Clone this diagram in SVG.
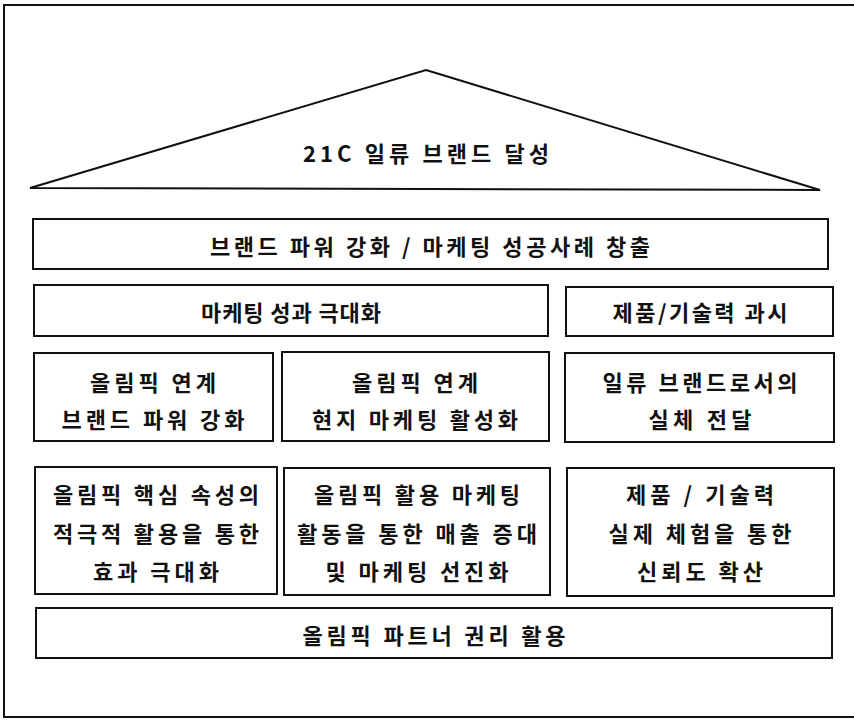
<svg xmlns="http://www.w3.org/2000/svg" width="854" height="723" viewBox="0 0 854 723">
<style>
.box{fill:#fff;stroke:#111;stroke-width:2}
.frame{fill:none;stroke:#111;stroke-width:2}
text{font-family:"Noto Sans CJK KR","Liberation Sans",sans-serif;font-size:22px;font-weight:bold;fill:#111;text-anchor:middle;dominant-baseline:central}
</style>
<rect width="854" height="723" fill="#fff"/>
<path class="frame" d="M854,5 H4 V717 H854"/>
<g id="roof">
<polygon class="box" points="426,70 820,190 30,188"/>
<text x="426" y="152" textLength="246" lengthAdjust="spacing">21C 일류 브랜드 달성</text>
</g>
<g id="goal">
<rect class="box" x="33" y="219" width="795" height="50"/>
<text x="430" y="245" textLength="440" lengthAdjust="spacing">브랜드 파워 강화 / 마케팅 성공사례 창출</text>
</g>
<g id="marketing">
<rect class="box" x="34" y="285" width="514" height="51"/>
<text x="291" y="311" textLength="180" lengthAdjust="spacing">마케팅 성과 극대화</text>
</g>
<g id="product">
<rect class="box" x="566" y="287" width="267" height="49"/>
<text x="700" y="311" textLength="175" lengthAdjust="spacing">제품/기술력 과시</text>
</g>
<g id="brand-power">
<rect class="box" x="34" y="353" width="239" height="88"/>
<text x="153" y="381" textLength="126" lengthAdjust="spacing">올림픽 연계</text>
<text x="153" y="418" textLength="183" lengthAdjust="spacing">브랜드 파워 강화</text>
</g>
<g id="local-marketing">
<rect class="box" x="282" y="352" width="267" height="89"/>
<text x="415" y="381" textLength="126" lengthAdjust="spacing">올림픽 연계</text>
<text x="415" y="418" textLength="206" lengthAdjust="spacing">현지 마케팅 활성화</text>
</g>
<g id="substance">
<rect class="box" x="565" y="353" width="269" height="89"/>
<text x="700" y="381" textLength="195" lengthAdjust="spacing">일류 브랜드로서의</text>
<text x="700" y="418" textLength="103" lengthAdjust="spacing">실체 전달</text>
</g>
<g id="core-attributes">
<rect class="box" x="35" y="467" width="242" height="127"/>
<text x="156" y="493" textLength="206" lengthAdjust="spacing">올림픽 핵심 속성의</text>
<text x="156" y="532" textLength="206" lengthAdjust="spacing">적극적 활용을 통한</text>
<text x="156" y="570" textLength="126" lengthAdjust="spacing">효과 극대화</text>
</g>
<g id="sales">
<rect class="box" x="284" y="468" width="266" height="127"/>
<text x="417" y="493" textLength="206" lengthAdjust="spacing">올림픽 활용 마케팅</text>
<text x="417" y="532" textLength="240" lengthAdjust="spacing">활동을 통한 매출 증대</text>
<text x="417" y="570" textLength="183" lengthAdjust="spacing">및 마케팅 선진화</text>
</g>
<g id="trust">
<rect class="box" x="567" y="468" width="267" height="128"/>
<text x="700" y="493" textLength="148" lengthAdjust="spacing">제품 / 기술력</text>
<text x="700" y="532" textLength="183" lengthAdjust="spacing">실제 체험을 통한</text>
<text x="700" y="570" textLength="126" lengthAdjust="spacing">신뢰도 확산</text>
</g>
<g id="partner-rights">
<rect class="box" x="36" y="608" width="796" height="50"/>
<text x="434" y="634" textLength="263" lengthAdjust="spacing">올림픽 파트너 권리 활용</text>
</g>
</svg>
